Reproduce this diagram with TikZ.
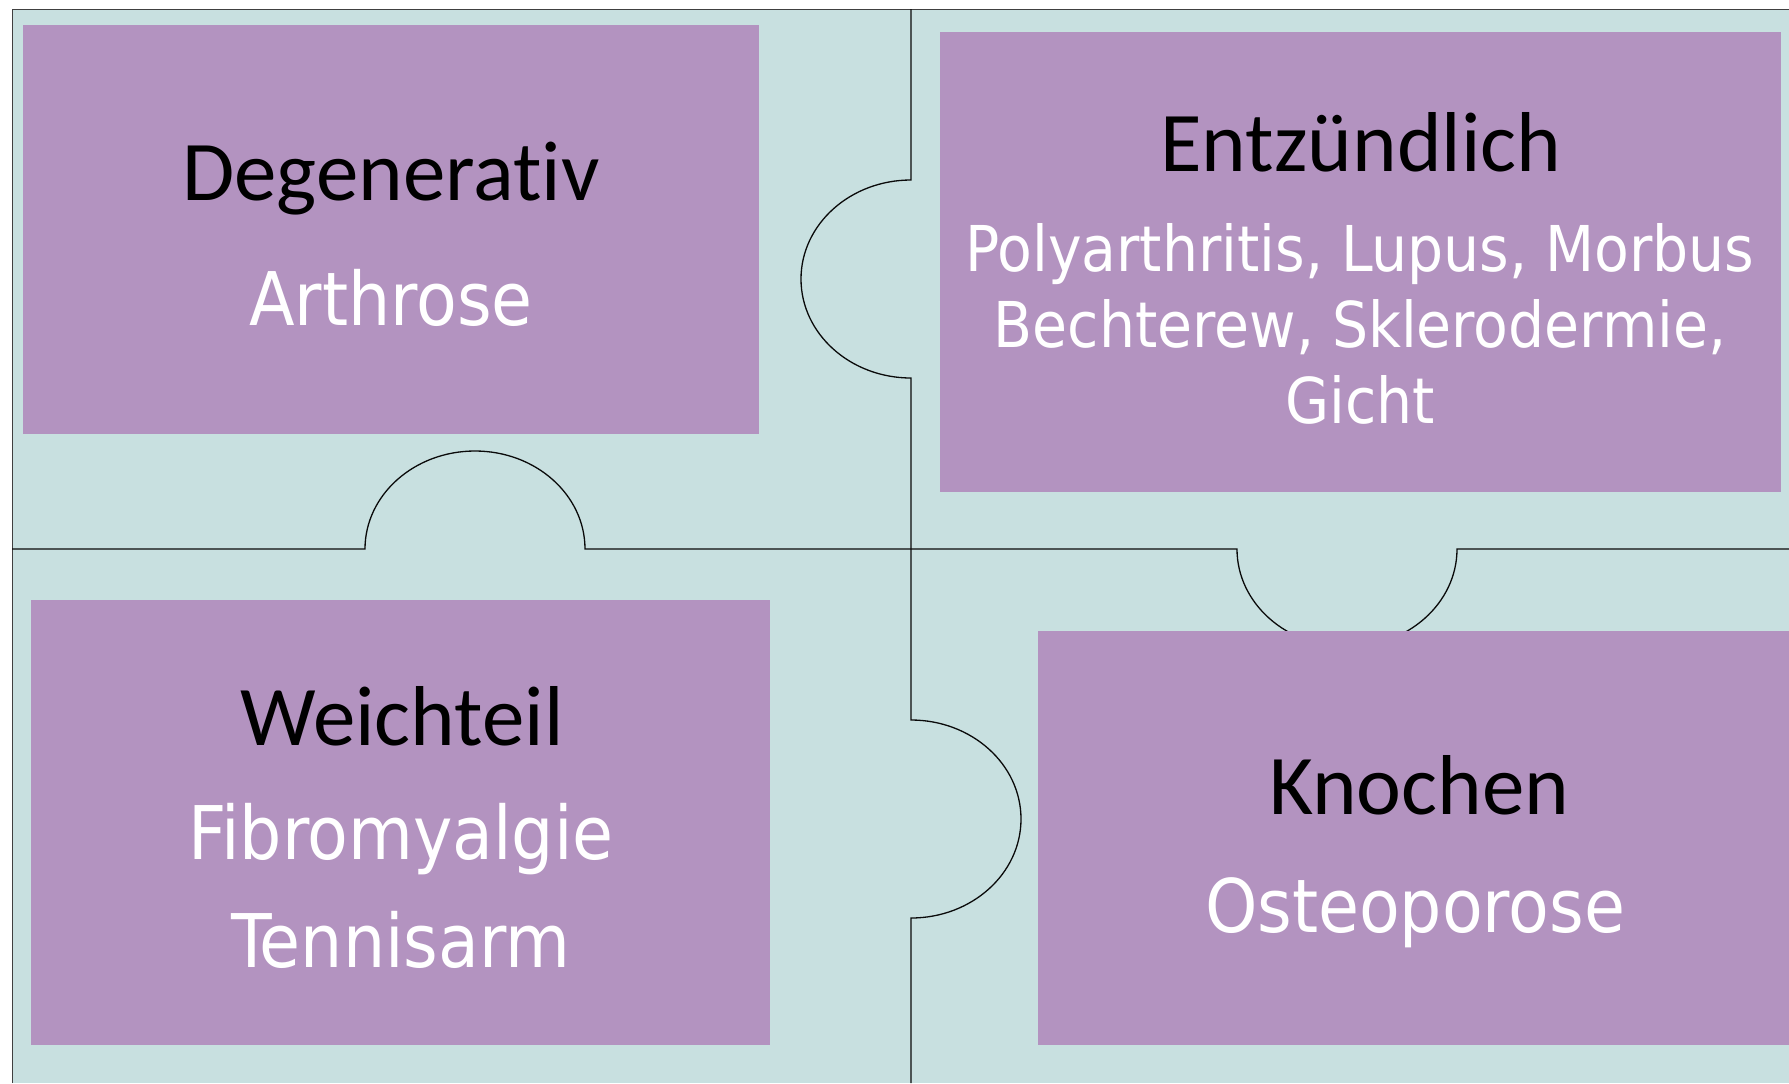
\documentclass[tikz,border=0pt]{standalone}
\usepackage{fontspec}
\setmainfont{Carlito}[Ligatures={NoCommon}]
\newfontfamily\bodyfont{DejaVu Sans Condensed}
\definecolor{tilebg}{RGB}{200,224,224}
\definecolor{cardfill}{RGB}{179,147,192}
\definecolor{seam}{RGB}{10,10,10}
\begin{document}
\begin{tikzpicture}[x=0.5pt,y=-0.5pt,
  heading/.style={anchor=base,inner sep=0pt,text=black,font=\fontsize{42.5}{46}\selectfont},
  entry/.style={anchor=base,inner sep=0pt,text=white,font=\bodyfont\fontsize{37}{40}\selectfont},
  smallentry/.style={anchor=base,inner sep=0pt,text=white,font=\bodyfont\fontsize{31.6}{36}\selectfont},
  seamline/.style={draw=seam,line width=0.65pt}]
% page and puzzle background
\useasboundingbox (0,0) rectangle (1789,1083);
\fill[white] (0,0) rectangle (1789,1083);
\fill[tilebg] (12,9) rectangle (1789,1083);
\draw[draw=black!75,line width=0.5pt] (12,1083) -- (12,9) -- (1789,9);
% vertical seam with two tabs
\draw[seamline] (911,9) -- (911,180)
  arc[start angle=270,end angle=90,x radius=110,y radius=99]
  -- (911,720)
  arc[start angle=270,end angle=450,x radius=110,y radius=99]
  -- (911,1083);
% horizontal seam with two tabs
\draw[seamline] (12,549) -- (365,549)
  arc[start angle=180,end angle=360,x radius=110,y radius=98]
  -- (1237,549)
  arc[start angle=180,end angle=0,x radius=110,y radius=98]
  -- (1789,549);
% cards
\fill[cardfill] (23,25) rectangle (759,434);
\fill[cardfill] (940,32) rectangle (1781,492);
\fill[cardfill] (31,600) rectangle (770,1045);
\fill[cardfill] (1038,631) rectangle (1789,1045);
% texts
\node[heading] (deg) at (391,200) {Degenerativ};
\node[entry] (arth) at (391,325) {Arthrose};
\node[heading] (entz) at (1361,171) {Entzündlich};
\node[smallentry] (e1) at (1360,271) {Polyarthritis, Lupus, Morbus};
\node[smallentry] (e2) at (1360,347) {Bechterew, Sklerodermie,};
\node[smallentry] (e3) at (1360,423) {Gicht};
\node[heading] (weich) at (402,745) {Weichteil};
\node[entry] (fibro) at (401,859) {Fibromyalgie};
\node[entry] (tennis) at (401,967) {Tennisarm};
\node[heading] (kno) at (1419,814) {Knochen};
\node[entry] (osteo) at (1415,932) {Osteoporose};
\end{tikzpicture}
\end{document}
